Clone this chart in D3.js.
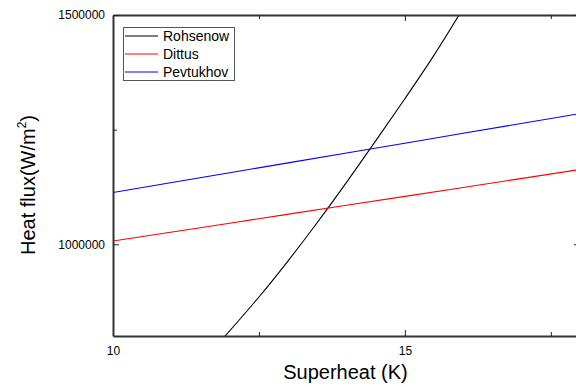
<!DOCTYPE html>
<html>
<head>
<meta charset="utf-8">
<script src="https://cdn.jsdelivr.net/npm/d3@7"></script>
<style>
  body { margin: 0; background: #fff; }
  svg { display: block; font-family: "Liberation Sans", Arial, sans-serif; }
</style>
</head>
<body>
<svg id="chart" width="576" height="387"></svg>
<script>
// values
const rohsenowX = [11.9, 12.5, 13.0, 13.5, 14.0, 14.5, 15.0, 15.5, 16.0];
const rohsenowY = [797000, 885000, 964000, 1047500, 1135000, 1225500, 1317500, 1412500, 1515000];
const linearX = [10, 12, 14, 16, 18];
const dittusY = [1007000, 1046000, 1085000, 1124000, 1163000];
const pevtukhovY = [1113000, 1156000, 1199000, 1242000, 1285000];
const xTicks = [10, 15];
const xMinorTicks = [12.5, 17.5];
const yTicks = [1000000, 1500000];
const yMinorTicks = [1250000];

const series = [
    { name: "Rohsenow", color: "#000000", xs: rohsenowX, ys: rohsenowY },
    { name: "Dittus", color: "#ff0000", xs: linearX, ys: dittusY },
    { name: "Pevtukhov", color: "#0000ff", xs: linearX, ys: pevtukhovY }
];

const FONT = "'Liberation Sans', Arial, sans-serif";
const svg = d3.select("#chart");
const mLeft = 113, mRight = 580, mTop = 15, mBottom = 336;

const x = d3.scaleLinear().domain([10, 18]).range([mLeft, mRight]);
const y = d3.scaleLinear().domain([800000, 1500000]).range([mBottom, mTop]);

svg.append("defs").append("clipPath").attr("id", "clip")
    .append("rect")
    .attr("x", mLeft).attr("y", mTop)
    .attr("width", mRight - mLeft).attr("height", mBottom - mTop);

// Draw the curves
const line = d3.line().x(d => x(d[0])).y(d => y(d[1])).curve(d3.curveCatmullRom);
const g = svg.append("g").attr("clip-path", "url(#clip)");
for (let s of series) {
    g.append("path")
        .datum(s.xs.map((v, i) => [v, s.ys[i]]))
        .attr("fill", "none")
        .attr("stroke", s.color)
        .attr("stroke-width", 1.1)
        .attr("d", line);
}

// Axes, ticks pointing inward
function styleAxis(sel) {
    sel.select(".domain").attr("stroke", "#333").attr("stroke-width", 2);
    sel.selectAll(".tick line").attr("stroke", "#222").attr("stroke-width", 1);
    sel.selectAll(".tick text").attr("fill", "#000").attr("font-size", 12)
        .attr("font-family", FONT);
}

function addAxis(axisFn, pos, transform, ticks, minor, labels, pad) {
    const major = svg.append("g").attr("transform", transform)
        .call(axisFn(pos).tickValues(ticks)
            .tickFormat(labels ? d3.format("d") : "")
            .tickSizeInner(-6).tickSizeOuter(0).tickPadding(pad));
    styleAxis(major);
    svg.append("g").attr("transform", transform)
        .call(axisFn(pos).tickValues(minor).tickFormat("").tickSizeInner(-4).tickSizeOuter(0))
        .call(a => a.select(".domain").remove()).call(styleAxis);
}

addAxis(d3.axisBottom, x, "translate(0," + mBottom + ")", xTicks, xMinorTicks, true, 10);
addAxis(d3.axisTop, x, "translate(0," + mTop + ")", xTicks, xMinorTicks, false, 3);
addAxis(d3.axisLeft, y, "translate(" + mLeft + ",0)", yTicks, yMinorTicks, true, 8);
addAxis(d3.axisRight, y, "translate(" + mRight + ",0)", yTicks, yMinorTicks, false, 3);

// Axis titles
svg.append("text")
    .attr("x", (mLeft + mRight) / 2 - 1).attr("y", 379)
    .attr("text-anchor", "middle").attr("font-size", 20)
    .text("Superheat (K)");

const yTitle = svg.append("text")
    .attr("transform", "translate(35,185) rotate(-90)")
    .attr("text-anchor", "middle").attr("font-size", 20);
yTitle.append("tspan").text("Heat flux(W/m");
yTitle.append("tspan").attr("font-size", 12).attr("dy", -9).text("2");
yTitle.append("tspan").attr("dy", 9).text(")");

// Legend
const legend = svg.append("g");
legend.append("rect")
    .attr("x", 123.5).attr("y", 27.5).attr("width", 111).attr("height", 53)
    .attr("fill", "#fff").attr("stroke", "#555").attr("stroke-width", 1);
series.forEach((s, i) => {
    const ly = 36 + i * 18;
    legend.append("line")
        .attr("x1", 125).attr("x2", 158).attr("y1", ly).attr("y2", ly)
        .attr("stroke", s.color).attr("stroke-width", 1);
    legend.append("text")
        .attr("x", 163).attr("y", ly + 5)
        .attr("font-size", 14)
        .text(s.name);
});
</script>
</body>
</html>
